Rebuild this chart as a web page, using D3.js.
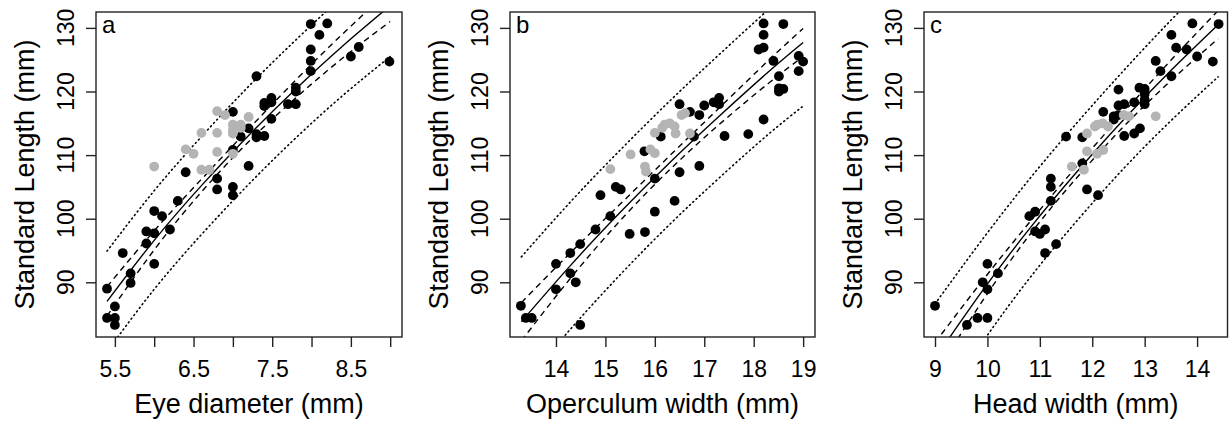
<!DOCTYPE html>
<html>
<head>
<meta charset="utf-8">
<script src="https://d3js.org/d3.v7.min.js"></script>
<style>
 body { margin: 0; background: #fff; }
 text { font-family: "Liberation Sans", Arial, Helvetica, sans-serif; fill: #000; }
</style>
</head>
<body>
<svg width="1229" height="428"></svg>
<script>

// shared y axis (standard length)
var slTicks = [90, 100, 110, 120, 130];

// panel a: eye diameter
var eyeTicks = [5.5, 6, 6.5, 7, 7.5, 8, 8.5, 9];
var eyeLabels = ["5.5", "", "6.5", "", "7.5", "", "8.5", ""];
var eyeBlack = [[7.99,130.6],[8.20,130.7],[8.10,128.9],[7.99,126.6],[7.99,124.8],[7.99,123.2],[8.60,127.0],
  [8.50,125.5],[8.99,124.7],[7.30,122.4],[7.80,120.6],[7.80,120.0],[7.49,119.0],[7.40,118.2],[7.49,118.3],
  [7.40,117.7],[7.70,118.0],[7.80,118.0],[7.00,116.8],[7.49,115.7],[7.20,114.2],[7.10,112.9],[7.30,113.3],
  [7.30,112.8],[7.40,113.0],[7.00,110.8],[7.20,108.3],[6.40,107.3],[6.80,106.3],[6.80,104.6],[7.00,105.0],
  [7.00,103.7],[6.30,102.8],[6.00,101.2],[6.10,100.4],[6.20,98.3],[5.90,98.0],[6.00,97.7],[5.90,96.1],
  [5.60,94.6],[6.00,92.9],[5.70,91.4],[5.70,89.9],[5.40,89.0],[5.50,86.2],[5.40,84.4],[5.50,84.4],[5.50,83.3]];
var eyeGrey = [[6.80,116.9],[6.90,116.3],[7.20,116.0],[7.00,114.8],[7.10,114.8],[7.00,114.0],[7.10,114.3],
  [6.60,113.5],[6.80,113.5],[7.00,113.4],[6.40,110.9],[6.50,110.2],[6.80,110.5],[7.00,110.2],[6.00,108.2],
  [6.60,107.7],[6.70,107.7]];
var eyeLineX = [5.4, 6.0, 6.6, 7.2, 7.8, 8.4, 9.0];
var eyeFit    = [87.0, 96.6, 105.2, 113.1, 120.4, 127.2, 133.5];
var eyeConfLo = [84.7, 95.1, 104.2, 112.1, 119.0, 125.3, 131.0];
var eyeConfHi = [89.3, 98.1, 106.2, 114.1, 121.8, 129.1, 136.0];
var eyePredLo = [79.1, 88.9, 97.5, 105.4, 112.7, 119.4, 125.5];
var eyePredHi = [94.9, 104.4, 112.9, 120.8, 128.1, 135.0, 141.5];

// panel b: operculum width
var opTicks = [14, 15, 16, 17, 18, 19];
var opLabels = ["14", "15", "16", "17", "18", "19"];
var opBlack = [[18.20,130.7],[18.60,130.6],[18.20,128.9],[18.10,126.6],[18.20,126.9],[18.40,124.8],[18.91,125.6],
  [19.00,124.7],[18.91,123.2],[18.51,122.4],[18.51,120.5],[18.60,120.4],[18.51,120.0],[16.50,118.0],[16.71,116.8],
  [16.90,116.3],[17.00,117.8],[17.19,118.3],[17.30,119.0],[17.30,118.0],[18.20,115.6],[17.89,113.3],[17.41,113.0],
  [16.79,112.9],[16.12,112.9],[15.79,110.6],[16.90,108.3],[16.50,107.3],[16.00,106.3],[15.21,105.0],[15.31,104.6],
  [14.90,103.7],[16.40,102.8],[16.00,101.1],[15.10,100.4],[14.80,98.3],[15.49,97.6],[15.80,97.9],[14.49,96.0],
  [14.29,94.6],[14.00,92.9],[14.29,91.4],[14.40,90.0],[14.00,88.9],[13.29,86.3],[13.39,84.4],[13.51,84.4],[14.49,83.3]];
var opGrey = [[16.54,116.3],[16.61,116.6],[16.20,114.8],[16.30,115.0],[16.40,114.5],[16.15,114.3],[16.42,113.4],
  [16.00,113.5],[16.71,113.4],[15.51,110.1],[15.91,110.9],[16.00,110.3],[15.10,107.8],[15.80,108.2],[15.82,107.4]];
var opLineX = [13.3, 14.3, 15.3, 16.3, 17.3, 18.3, 19.0];
var opFit    = [83.8, 92.7, 101.0, 108.8, 116.1, 123.1, 127.7];
var opConfLo = [80.8, 90.7, 99.7, 107.7, 114.8, 121.3, 125.5];
var opConfHi = [86.8, 94.7, 102.3, 109.9, 117.4, 124.9, 129.9];
var opPredLo = [73.6, 82.7, 91.2, 99.1, 106.4, 113.3, 117.7];
var opPredHi = [94.0, 102.7, 110.8, 118.5, 125.8, 132.9, 137.7];

// panel c: head width
var headTicks = [9, 10, 11, 12, 13, 14];
var headLabels = ["9", "10", "11", "12", "13", "14"];
var headBlack = [[13.91,130.7],[14.41,130.6],[13.51,128.9],[13.60,126.9],[13.80,126.6],[14.00,125.5],[14.30,124.7],
  [13.21,124.8],[13.30,123.2],[13.51,122.4],[12.90,120.6],[13.00,120.4],[13.00,119.6],[12.50,120.3],[13.00,118.7],
  [13.00,118.0],[12.80,118.3],[12.50,117.8],[12.61,118.0],[12.21,116.8],[12.41,116.1],[12.41,115.6],[12.50,116.3],
  [12.91,114.2],[12.80,113.4],[12.61,113.0],[11.50,112.9],[11.81,112.8],[11.81,108.7],[11.21,106.3],[11.21,105.0],
  [11.90,104.6],[12.11,103.7],[11.21,102.8],[10.80,100.4],[10.91,101.1],[10.91,98.0],[11.00,97.6],[11.10,98.3],
  [11.31,96.0],[11.10,94.6],[10.00,92.9],[10.20,91.4],[9.91,90.0],[10.00,88.9],[9.00,86.3],[9.81,84.4],
  [10.00,84.4],[9.61,83.3]];
var headGrey = [[13.21,116.1],[12.10,114.8],[12.20,115.0],[12.05,114.5],[12.30,114.5],[11.90,113.4],[12.60,116.3],
  [12.70,116.1],[11.90,110.6],[12.21,110.8],[12.09,110.2],[11.61,108.2],[11.84,107.7]];
var headLineX = [9.0, 9.9, 10.8, 11.7, 12.6, 13.5, 14.4];
var headFit    = [78.0, 88.6, 98.4, 107.3, 115.6, 123.3, 130.5];
var headConfLo = [75.5, 87.0, 97.4, 106.4, 114.5, 121.7, 128.3];
var headConfHi = [80.5, 90.2, 99.4, 108.2, 116.7, 124.9, 132.7];
var headPredLo = [69.4, 80.5, 90.6, 99.6, 107.9, 115.4, 122.3];
var headPredHi = [86.6, 96.7, 106.2, 115.0, 123.3, 131.2, 138.7];

var panels = [
 {letter: "a", title: "Eye diameter (mm)", xDom: [5.26, 9.15], left: 96, right: 402,
  ticks: eyeTicks, labels: eyeLabels, black: eyeBlack, grey: eyeGrey,
  lx: eyeLineX, fit: eyeFit, cl: eyeConfLo, ch: eyeConfHi, pl: eyePredLo, ph: eyePredHi},
 {letter: "b", title: "Operculum width (mm)", xDom: [13.07, 19.24], left: 510, right: 815,
  ticks: opTicks, labels: opLabels, black: opBlack, grey: opGrey,
  lx: opLineX, fit: opFit, cl: opConfLo, ch: opConfHi, pl: opPredLo, ph: opPredHi},
 {letter: "c", title: "Head width (mm)", xDom: [8.79, 14.58], left: 924, right: 1227.5,
  ticks: headTicks, labels: headLabels, black: headBlack, grey: headGrey,
  lx: headLineX, fit: headFit, cl: headConfLo, ch: headConfHi, pl: headPredLo, ph: headPredHi}
];

var plotTop = 12, plotBottom = 337;
var svg = d3.select("svg");
var y = d3.scaleLinear().domain([81.4, 132.5]).range([plotBottom, plotTop]);

panels.forEach(function (p, i) {
  var x = d3.scaleLinear().domain(p.xDom).range([p.left, p.right]);
  var g = svg.append("g");

  svg.append("clipPath").attr("id", "clip" + i)
    .append("rect").attr("x", p.left).attr("y", plotTop)
    .attr("width", p.right - p.left).attr("height", plotBottom - plotTop);

  var plot = g.append("g").attr("clip-path", "url(#clip" + i + ")");

  var line = d3.line()
    .x(function (d) { return x(d[0]); })
    .y(function (d) { return y(d[1]); })
    .curve(d3.curveNatural);

  function band(vals, dash) {
    var dotted = dash == "1 3.5";
    plot.append("path")
      .datum(p.lx.map(function (v, j) { return [v, vals[j]]; }))
      .attr("d", line)
      .attr("fill", "none")
      .attr("stroke", "#000")
      .attr("stroke-width", dotted ? 1.6 : 1.4)
      .attr("stroke-linecap", dotted ? "round" : "butt")
      .attr("stroke-dasharray", dash);
  }
  band(p.pl, "1 3.5");
  band(p.ph, "1 3.5");
  band(p.cl, "6 4.5");
  band(p.ch, "6 4.5");
  band(p.fit, null);

  plot.selectAll(".blk").data(p.black).enter()
    .append("circle")
      .attr("cx", function (d) { return x(d[0]); })
      .attr("cy", function (d) { return y(d[1]); })
      .attr("r", 4.9)
      .style("fill", "#000");

  plot.selectAll(".gry").data(p.grey).enter()
    .append("circle")
      .attr("cx", function (d) { return x(d[0]); })
      .attr("cy", function (d) { return y(d[1]); })
      .attr("r", 4.9)
      .style("fill", "#b4b4b4");

  // box
  g.append("rect")
    .attr("x", p.left).attr("y", plotTop)
    .attr("width", p.right - p.left).attr("height", plotBottom - plotTop)
    .attr("fill", "none").attr("stroke", "#222").attr("stroke-width", 1.4);

  // x axis
  var xa = g.append("g")
    .attr("transform", "translate(0," + plotBottom + ")")
    .call(d3.axisBottom(x).tickValues(p.ticks)
      .tickFormat(function (d, j) { return p.labels[j]; })
      .tickSize(10).tickSizeOuter(0).tickPadding(14));
  xa.select(".domain").remove();
  xa.selectAll("line").attr("stroke", "#222").attr("stroke-width", 1.4);
  xa.selectAll("text").attr("font-family", "Liberation Sans, Arial, sans-serif")
    .attr("font-size", 23).attr("fill", "#000");

  // y axis ticks
  var ya = g.append("g")
    .attr("transform", "translate(" + p.left + ",0)")
    .call(d3.axisLeft(y).tickValues(slTicks).tickSize(10).tickSizeOuter(0).tickFormat(""));
  ya.select(".domain").remove();
  ya.selectAll("line").attr("stroke", "#222").attr("stroke-width", 1.4);

  // rotated y tick labels
  g.selectAll(".ylab").data(slTicks).enter()
    .append("text")
      .attr("transform", function (d) {
        return "translate(" + (p.left - 22) + "," + y(d) + ") rotate(-90)";
      })
      .attr("text-anchor", "middle")
      .attr("font-size", 23)
      .text(function (d) { return d; });

  // axis titles
  g.append("text")
    .attr("transform", "translate(" + (p.left - 62) + "," + ((plotTop + plotBottom) / 2) + ") rotate(-90)")
    .attr("text-anchor", "middle")
    .attr("font-size", 27)
    .text("Standard Length (mm)");

  g.append("text")
    .attr("x", (p.left + p.right) / 2).attr("y", 413)
    .attr("text-anchor", "middle")
    .attr("font-size", 27)
    .text(p.title);

  // panel letter
  g.append("text")
    .attr("x", p.left + 6).attr("y", 33)
    .attr("font-size", 24)
    .text(p.letter);
});

</script>
</body>
</html>
